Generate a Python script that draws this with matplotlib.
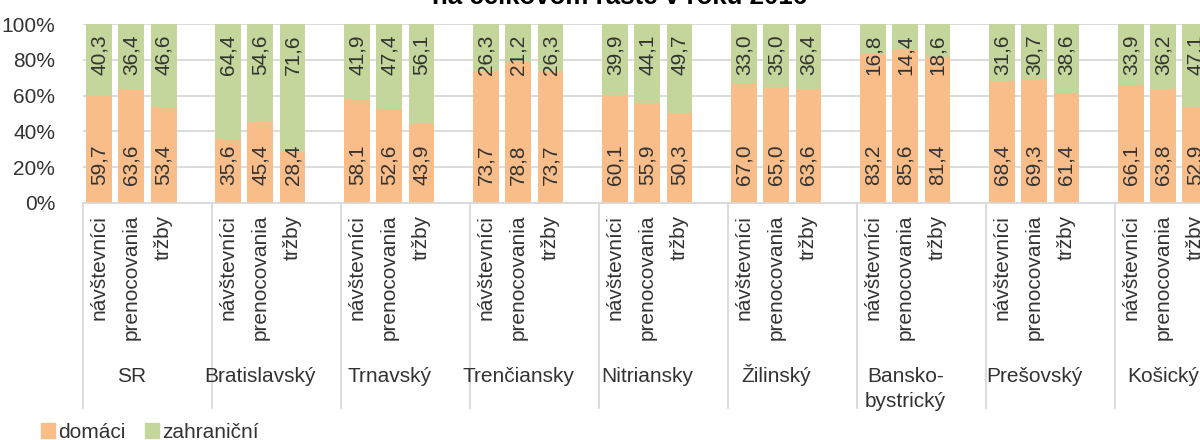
import matplotlib
matplotlib.use("Agg")
import matplotlib.pyplot as plt
from matplotlib.patches import Patch
import numpy as np

plt.rcParams["font.family"] = ["Liberation Sans", "DejaVu Sans"]

# ---------- data ----------
regions = ["SR", "Bratislavský", "Trnavský", "Trenčiansky", "Nitriansky",
           "Žilinský", "Bansko-\nbystrický", "Prešovský", "Košický"]
measures = ["návštevníci", "prenocovania", "tržby"]
domaci = [
    [59.7, 63.6, 53.4],
    [35.6, 45.4, 28.4],
    [58.1, 52.6, 43.9],
    [73.7, 78.8, 73.7],
    [60.1, 55.9, 50.3],
    [67.0, 65.0, 63.6],
    [83.2, 85.6, 81.4],
    [68.4, 69.3, 61.4],
    [66.1, 63.8, 52.9],
]
zahranicni = [
    [40.3, 36.4, 46.6],
    [64.4, 54.6, 71.6],
    [41.9, 47.4, 56.1],
    [26.3, 21.2, 26.3],
    [39.9, 44.1, 49.7],
    [33.0, 35.0, 36.4],
    [16.8, 14.4, 18.6],
    [31.6, 30.7, 38.6],
    [33.9, 36.2, 47.1],
]
title = "na celkovom raste v roku 2016"

C = {"dom": "#F8BD88", "zah": "#C4D69B", "grid": "#D9D9D9", "ink": "#333333"}
FS = 15

W, H = 1200, 440
fig = plt.figure(figsize=(W / 100, H / 100), dpi=100)
# plot area runs past the right edge (the source image is cropped)
ax = fig.add_axes([83 / W, 1 - 202.7 / H, 1128.5 / W, 178.4 / H])

# each region takes 4 slots: 3 bars + 1 empty
xs, d_vals, z_vals, x_labels = [], [], [], []
for g in range(len(regions)):
    for j in range(3):
        xs.append(g * 4 + j)
        d_vals.append(domaci[g][j])
        z_vals.append(zahranicni[g][j])
        x_labels.append(measures[j])
xs = np.array(xs)
d_vals = np.array(d_vals)
z_vals = np.array(z_vals)

ax.bar(xs, d_vals, width=0.8, color=C["dom"], zorder=2, label="domáci")
ax.bar(xs, z_vals, width=0.8, bottom=d_vals, color=C["zah"], zorder=2, label="zahraniční")

fmt = lambda v: f"{v:.1f}".replace(".", ",")
for x, d, z in zip(xs, d_vals, z_vals):
    ax.text(x, 10.1, fmt(d), rotation=90, ha="center", va="bottom",
            fontsize=FS, color=C["ink"], zorder=3)
    ax.text(x, 94.2, fmt(z), rotation=90, ha="center", va="top",
            fontsize=FS, color=C["ink"], zorder=3)

ax.set_xlim(-0.5, 34.5)
ax.set_ylim(0, 100)
ax.set_yticks(np.arange(0, 101, 20))
ax.set_yticklabels([f"{v}%" for v in range(0, 101, 20)])
ax.tick_params(axis="y", length=0, pad=20, labelsize=FS, labelcolor=C["ink"])
ax.set_xticks([])
for s in ["top", "right", "left"]:
    ax.spines[s].set_visible(False)
ax.spines["bottom"].set_color(C["grid"])
ax.spines["bottom"].set_linewidth(1.3)
ax.grid(axis="y", color=C["grid"], lw=1.3, zorder=0)
ax.set_axisbelow(True)

# two-level category axis
trans = ax.get_xaxis_transform()
for x, lab in zip(xs, x_labels):
    ax.text(x, -12.3 / 178.4, lab, rotation=90, ha="center", va="top",
            fontsize=FS, color=C["ink"], transform=trans, clip_on=False)
for g, reg in enumerate(regions):
    lines = reg.split("\n")
    for k, line in enumerate(lines):
        ax.text(g * 4 + 1, -(382 + 25 * k - 202.7) / 178.4, line, ha="center",
                va="baseline", fontsize=FS, color=C["ink"], transform=trans,
                clip_on=False)
    xe = g * 4 - 0.5
    ax.plot([xe, xe], [0, -(408 - 202.7) / 178.4], color=C["grid"], lw=1.3,
            transform=trans, clip_on=False)

fig.text(620 / W, 1 - 3.5 / H, title, ha="center", va="baseline",
         fontsize=18.6, fontweight="bold", color="#000000")

handles = [Patch(color=C["dom"], label="domáci"), Patch(color=C["zah"], label="zahraniční")]
fig.legend(handles=handles, loc="center left", bbox_to_anchor=(22 / W, 1 - 432 / H),
           ncol=2, frameon=False, fontsize=FS, handlelength=0.7, handleheight=0.7,
           handletextpad=0.15, columnspacing=0.9, labelcolor=C["ink"])

fig.savefig("out.png", dpi=100)
